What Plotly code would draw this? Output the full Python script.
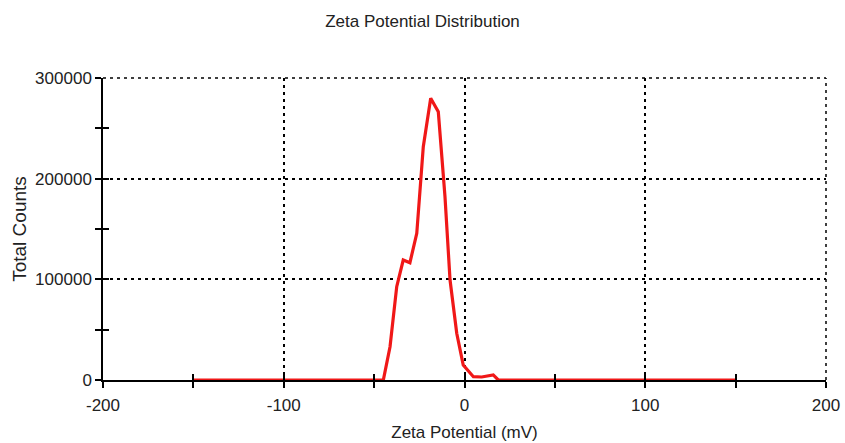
import plotly.graph_objects as go

# Zeta potential (mV) and total counts
zeta_mv = [-150, -44.9, -41.2, -37.5, -33.9, -30.2, -26.4, -22.8, -18.7, -14.5,
           -10.8, -8.0, -4.3, -0.7, 4.9, 9.5, 15.9, 18.7, 150]
total_counts = [0, 0, 33000, 92700, 119200, 116500, 145700, 231800, 279800, 266500,
                182100, 99300, 46400, 14900, 3300, 3000, 5000, 0, 0]

x_ticks = [-200, -100, 0, 100, 200]
x_labels = ["-200", "-100", "0", "100", "200"]
y_ticks = [0, 100000, 200000, 300000]
y_labels = ["0", "100000", "200000", "300000"]

FONT = "Liberation Sans, Arial, sans-serif"
TXT = "#222222"
GRID_DASH = "3px,4px"

fig = go.Figure()
fig.add_trace(go.Scatter(x=zeta_mv, y=total_counts, mode="lines",
                         line=dict(color="#f01818", width=3.2), hoverinfo="skip",
                         showlegend=False))
# invisible trace to activate overlaying axes (inside ticks)
fig.add_trace(go.Scatter(x=[x_ticks[0]], y=[y_ticks[0]], xaxis="x2", yaxis="y2",
                         mode="markers", marker=dict(opacity=0), showlegend=False,
                         hoverinfo="skip"))

tick_common = dict(ticklen=6, tickcolor="black", tickwidth=1.5)

fig.update_layout(
    width=845, height=443,
    margin=dict(l=103, r=19, t=78, b=63, autoexpand=False),
    paper_bgcolor="white", plot_bgcolor="white",
    font=dict(family=FONT, color=TXT, size=17),
    title=dict(text="Zeta Potential Distribution", x=0.5, xanchor="center",
               y=1 - 21 / 443, yanchor="middle", font=dict(size=17, color=TXT)),
    xaxis=dict(range=[-200, 200], tickvals=x_ticks, ticktext=x_labels,
               showline=True, linecolor="black", linewidth=1.5, ticks="outside",
               **tick_common, showgrid=True, gridcolor="black", griddash=GRID_DASH,
               gridwidth=1.5, zeroline=False, automargin=False, ticklabelstandoff=3,
               minor=dict(dtick=50, ticks="outside", **tick_common, showgrid=False),
               title=dict(text="Zeta Potential (mV)", font=dict(size=17), standoff=12),
               tickfont=dict(size=17)),
    yaxis=dict(range=[0, 300000], tickvals=y_ticks, ticktext=y_labels,
               showline=True, linecolor="black", linewidth=1.5, ticks="outside",
               **tick_common, showgrid=True, gridcolor="black", griddash=GRID_DASH,
               gridwidth=1.5, zeroline=False, automargin=False, ticklabelstandoff=0,
               minor=dict(dtick=50000, ticks="outside", **tick_common, showgrid=False),
               title=dict(text="Total Counts", font=dict(size=19), standoff=3),
               tickfont=dict(size=17)),
    xaxis2=dict(overlaying="x", matches="x", side="bottom", anchor="y", ticks="inside",
                tickvals=x_ticks, **tick_common, showticklabels=False, showgrid=False,
                zeroline=False, showline=False,
                minor=dict(dtick=50, ticks="inside", **tick_common)),
    yaxis2=dict(overlaying="y", matches="y", side="left", anchor="x", ticks="inside",
                tickvals=y_ticks, **tick_common, showticklabels=False, showgrid=False,
                zeroline=False, showline=False,
                minor=dict(dtick=50000, ticks="inside", **tick_common)),
)
# dotted frame on top and right edges
fig.add_shape(type="line", xref="paper", yref="paper", x0=0, x1=1, y0=1, y1=1,
              line=dict(color="black", width=1.5, dash=GRID_DASH))
fig.add_shape(type="line", xref="paper", yref="paper", x0=1, x1=1, y0=0, y1=1,
              line=dict(color="black", width=1.5, dash=GRID_DASH))

fig.write_html("out.html")
